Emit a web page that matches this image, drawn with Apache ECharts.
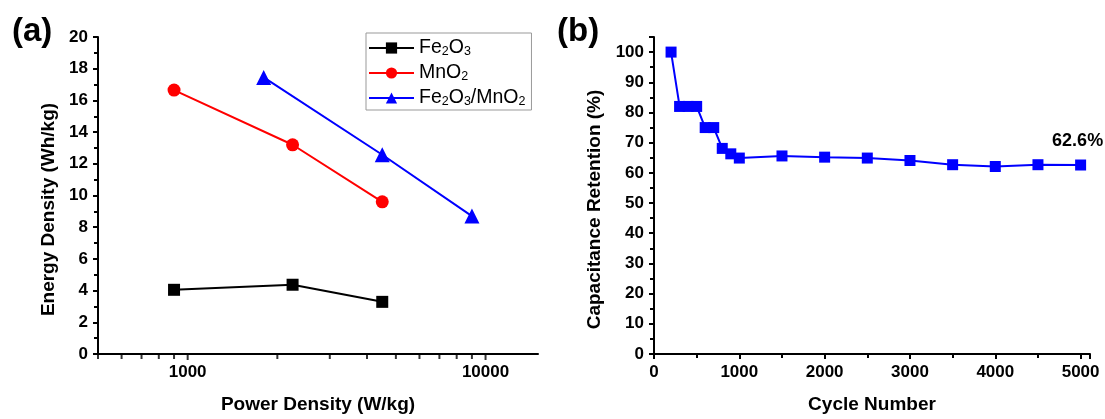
<!DOCTYPE html>
<html>
<head>
<meta charset="utf-8">
<title>Fe2O3/MnO2 energy density and cycling</title>
<script src="https://cdn.jsdelivr.net/npm/echarts@6/dist/echarts.min.js"></script>
<style>
	html, body { margin: 0; padding: 0; background: #fff; }
	#chart { width: 1105px; height: 419px; }
</style>
</head>
<body>
<div id="chart"></div>
<script>
	// (a) Ragone plot
	const powerFe = [900, 2250, 4500];
	const energyFe = [4.05, 4.37, 3.29];
	const powerMn = [900, 2250, 4500];
	const energyMn = [16.65, 13.2, 9.6];
	const powerFeMn = [1800, 4500, 9000];
	const energyFeMn = [17.45, 12.57, 8.7];
	const logMajorTicks = [1000, 10000];
	const logMinorTicks = [500, 600, 700, 800, 900, 2000, 3000, 4000, 5000, 6000, 7000, 8000, 9000];
	const seriesNames = ["Fe2O3", "MnO2", "Fe2O3/MnO2"];

	// (b) cycling stability
	const cycles = [200, 300, 400, 500, 600, 700, 800, 900, 1000, 1500, 2000, 2500, 3000, 3500, 4000, 4500, 5000];
	const retention = [100, 82, 82, 82, 75, 75, 68.1, 66.3, 64.9, 65.6, 65.2, 64.9, 64.1, 62.7, 62.1, 62.7, 62.6];

	const FONT = '"Liberation Sans", Arial, sans-serif';
	const pairs = (xs, ys) => xs.map((x, i) => [x, ys[i]]);
	// digits as subscripts in the legend
	const sub = s => s.replace(/(\d)/g, "{s|$1}");

	const tickLabel = {
		fontFamily: FONT,
		fontSize: 17,
		fontWeight: "bold",
		color: "#000",
		margin: 10
	};
	const nameStyle = {
		fontFamily: FONT,
		fontSize: 19,
		fontWeight: "bold",
		color: "#000"
	};
	const axisLine = { lineStyle: { color: "#000", width: 2 } };

	let myChart = echarts.init(document.getElementById("chart"));
	const last = cycles.length - 1;

	let option = {
		animation: false,
		backgroundColor: "#fff",
		graphic: [
			{ type: "text", left: 12, top: 15, style: { text: "(a)", font: "bold 33px " + FONT, fill: "#000" } },
			{ type: "text", left: 557, top: 15, style: { text: "(b)", font: "bold 33px " + FONT, fill: "#000" } }
		],
		grid: [
			{ left: 98, top: 37, width: 440, height: 322 },
			{ left: 654, top: 37, width: 436, height: 322 }
		],
		legend: {
			data: seriesNames,
			orient: "vertical",
			left: 366,
			top: 33,
			padding: [5, 6, 2, 2],
			itemGap: 5,
			itemWidth: 45,
			itemHeight: 14,
			borderColor: "#999",
			borderWidth: 1,
			formatter: name => sub(name),
			textStyle: {
				fontFamily: FONT,
				fontSize: 19.5,
				color: "#000",
				rich: {
					s: { fontFamily: FONT, fontSize: 12.5, color: "#000", verticalAlign: "bottom", padding: [6, 0, 0, 0] }
				}
			}
		},
		xAxis: [{
			type: "log",
			gridIndex: 0,
			min: 500,
			max: 15000,
			axisLine: axisLine,
			axisTick: { show: false },
			splitLine: { show: false },
			axisLabel: Object.assign({}, tickLabel, {
				formatter: v => logMajorTicks.includes(Math.round(v)) ? String(Math.round(v)) : ""
			}),
			name: "Power Density (W/kg)",
			nameLocation: "middle",
			nameGap: 41,
			nameTextStyle: nameStyle
		}, {
			type: "value",
			gridIndex: 1,
			min: 0,
			max: 5110,
			interval: 1000,
			axisLine: axisLine,
			axisTick: { length: 5, lineStyle: { width: 2 } },
			minorTick: { show: true, splitNumber: 2, length: 4, lineStyle: { color: "#000", width: 2 } },
			splitLine: { show: false },
			axisLabel: Object.assign({}, tickLabel, { showMaxLabel: false, formatter: v => String(v) }),
			name: "Cycle Number",
			nameLocation: "middle",
			nameGap: 41,
			nameTextStyle: nameStyle
		}],
		yAxis: [{
			type: "value",
			gridIndex: 0,
			min: 0,
			max: 20,
			interval: 2,
			axisLine: axisLine,
			axisTick: { length: 5, lineStyle: { width: 2 } },
			minorTick: { show: true, splitNumber: 2, length: 4, lineStyle: { color: "#000", width: 2 } },
			splitLine: { show: false },
			axisLabel: tickLabel,
			name: "Energy Density (Wh/kg)",
			nameLocation: "middle",
			nameGap: 40,
			nameTextStyle: Object.assign({}, nameStyle, { padding: [0, 28, 0, 0] })
		}, {
			type: "value",
			gridIndex: 1,
			min: 0,
			max: 105,
			interval: 10,
			axisLine: axisLine,
			axisTick: { length: 5, lineStyle: { width: 2 } },
			minorTick: { show: true, splitNumber: 2, length: 4, lineStyle: { color: "#000", width: 2 } },
			splitLine: { show: false },
			axisLabel: Object.assign({}, tickLabel, { showMaxLabel: false }),
			name: "Capacitance Retention (%)",
			nameLocation: "middle",
			nameGap: 50,
			nameTextStyle: Object.assign({}, nameStyle, { padding: [0, 28, 0, 0] })
		}],
		series: [
			{
				name: seriesNames[0],
				type: "line",
				xAxisIndex: 0,
				yAxisIndex: 0,
				data: pairs(powerFe, energyFe),
				symbol: "rect",
				symbolSize: 12,
				lineStyle: { color: "#000", width: 2 },
				itemStyle: { color: "#000" }
			},
			{
				name: seriesNames[1],
				type: "line",
				xAxisIndex: 0,
				yAxisIndex: 0,
				data: pairs(powerMn, energyMn),
				symbol: "circle",
				symbolSize: 13,
				lineStyle: { color: "#ff0000", width: 2 },
				itemStyle: { color: "#ff0000" }
			},
			{
				name: seriesNames[2],
				type: "line",
				xAxisIndex: 0,
				yAxisIndex: 0,
				data: pairs(powerFeMn, energyFeMn),
				symbol: "triangle",
				symbolSize: 15,
				lineStyle: { color: "#0000ff", width: 2 },
				itemStyle: { color: "#0000ff" }
			},
			// log-axis ticks at 1000/10000 and the 2..9 minors
			{
				type: "scatter",
				xAxisIndex: 0,
				yAxisIndex: 0,
				data: logMajorTicks.map(v => [v, 0]),
				symbol: "rect",
				symbolSize: [2, 5],
				symbolOffset: [0, 3.5],
				itemStyle: { color: "#000" },
				silent: true,
				clip: false
			},
			{
				type: "scatter",
				xAxisIndex: 0,
				yAxisIndex: 0,
				data: logMinorTicks.map(v => [v, 0]),
				symbol: "rect",
				symbolSize: [2, 4],
				symbolOffset: [0, 3],
				itemStyle: { color: "#000" },
				silent: true,
				clip: false
			},
			{
				name: "Retention",
				type: "line",
				xAxisIndex: 1,
				yAxisIndex: 1,
				data: pairs(cycles, retention).map((p, i) => i === last ? {
					value: p,
					label: {
						show: true,
						position: "top",
						distance: 9,
						offset: [-3, 0],
						formatter: retention[last] + "%",
						fontFamily: FONT,
						fontSize: 18,
						fontWeight: "bold",
						color: "#000"
					}
				} : p),
				symbol: "rect",
				symbolSize: 11,
				lineStyle: { color: "#0000ff", width: 2 },
				itemStyle: { color: "#0000ff" }
			}
		]
	};

	myChart.setOption(option);
</script>
</body>
</html>
